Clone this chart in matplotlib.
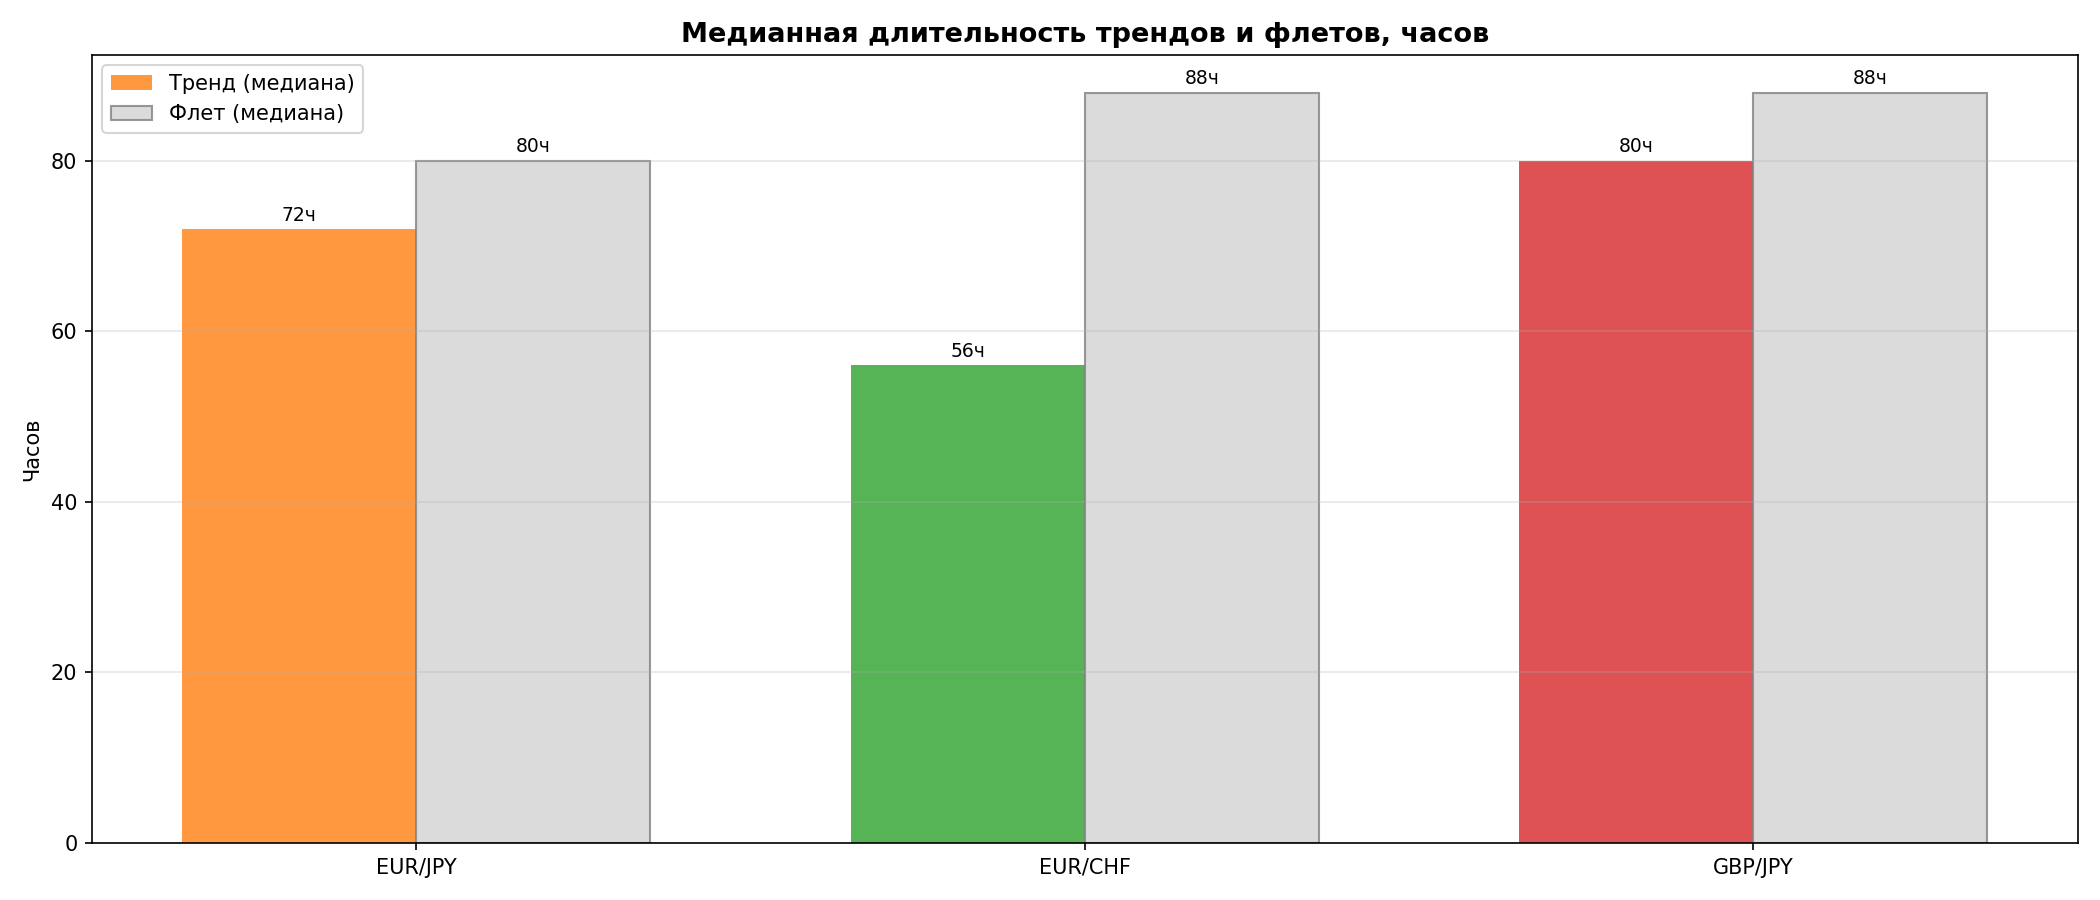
import numpy as np
import matplotlib.pyplot as plt

pairs = ['EUR/JPY', 'EUR/CHF', 'GBP/JPY']
trend_median = [72, 56, 80]
flat_median = [80, 88, 88]
trend_colors = ['#ff7f0e', '#2ca02c', '#d62728']

x = np.arange(len(pairs))
width = 0.35

fig, ax = plt.subplots(figsize=(14, 6), dpi=150)
bars_trend = ax.bar(x - width / 2, trend_median, width, color=trend_colors, alpha=0.8,
                    label='Тренд (медиана)')
bars_flat = ax.bar(x + width / 2, flat_median, width, color='lightgray', alpha=0.8,
                   edgecolor='gray', linewidth=1, label='Флет (медиана)')

for b, v in zip(bars_trend, trend_median):
    ax.text(b.get_x() + b.get_width() / 2, v + 0.5, f'{v}ч', ha='center', va='bottom', fontsize=9)
for b, v in zip(bars_flat, flat_median):
    ax.text(b.get_x() + b.get_width() / 2, v + 0.5, f'{v}ч', ha='center', va='bottom', fontsize=9)

ax.set_xticks(x)
ax.set_xticklabels(pairs)
ax.set_ylabel('Часов')
ax.set_title('Медианная длительность трендов и флетов, часов', fontsize=13, fontweight='bold')
ax.legend(loc='upper left')
ax.grid(True, axis='y', alpha=0.3)

plt.tight_layout()
plt.savefig('out.png')
